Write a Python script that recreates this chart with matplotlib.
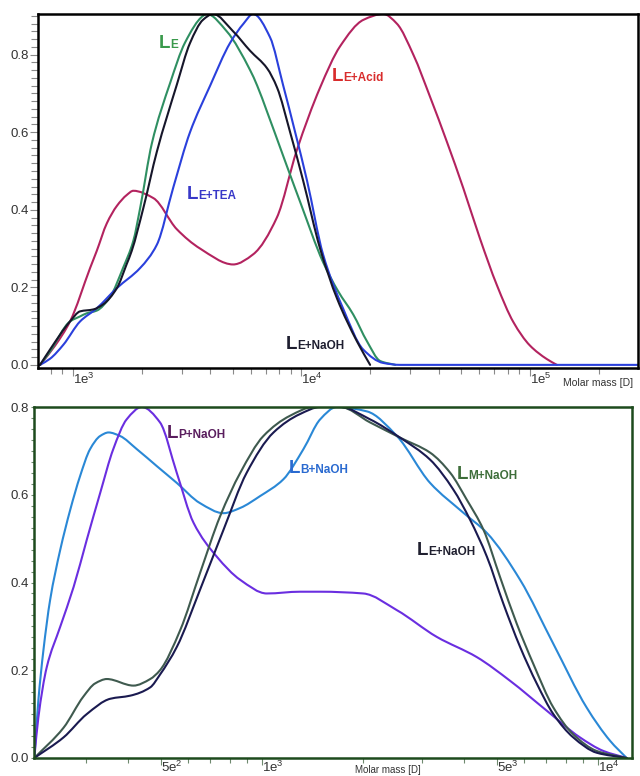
import numpy as np
import matplotlib
matplotlib.use("Agg")
import matplotlib.pyplot as plt
from matplotlib.path import Path
from matplotlib.patches import PathPatch
from matplotlib.ticker import FixedLocator, LogLocator, MultipleLocator, FuncFormatter, NullFormatter

plt.rcParams['font.family'] = ['Liberation Sans', 'DejaVu Sans']
plt.rcParams['mathtext.default'] = 'regular'

# ------------------------------------------------------------
# data (log10 of molar mass, normalised signal)
# ------------------------------------------------------------

# upper panel
lg_le = [2.857, 2.901, 2.988, 3.032, 3.061, 3.105, 3.163, 3.220, 3.265, 3.295, 3.346,
         3.426, 3.491, 3.570, 3.586, 3.674, 3.776, 3.807, 3.850, 3.920, 3.951, 3.995,
         4.095, 4.161, 4.227, 4.288, 4.345, 4.411]
v_le = [0, 0.035, 0.112, 0.125, 0.133, 0.14, 0.175, 0.25, 0.32, 0.405, 0.571,
        0.727, 0.831, 0.90, 0.905, 0.86, 0.76, 0.72, 0.653, 0.54, 0.49, 0.42,
        0.265, 0.19, 0.13, 0.06, 0.01, 0]

lg_naoh = [2.857, 2.901, 2.988, 3.032, 3.090, 3.133, 3.193, 3.236, 3.258, 3.309, 3.368,
           3.455, 3.513, 3.570, 3.614, 3.702, 3.776, 3.850, 3.894, 3.951, 4.008, 4.082,
           4.157, 4.244, 4.301]
v_naoh = [0, 0.04, 0.112, 0.138, 0.143, 0.156, 0.198, 0.26, 0.294, 0.405, 0.55,
          0.722, 0.83, 0.89, 0.905, 0.86, 0.81, 0.765, 0.715, 0.60, 0.475, 0.30,
          0.17, 0.06, 0]

lg_tea = [2.857, 2.901, 2.959, 3.032, 3.105, 3.193, 3.295, 3.368, 3.440, 3.513, 3.601,
          3.688, 3.747, 3.789, 3.863, 3.920, 3.973, 4.025, 4.095, 4.183, 4.270, 4.358,
          4.433, 5.473]
v_tea = [0, 0.016, 0.052, 0.112, 0.146, 0.198, 0.25, 0.31, 0.458, 0.60, 0.72,
         0.83, 0.88, 0.905, 0.845, 0.722, 0.60, 0.475, 0.285, 0.145, 0.04, 0.005,
         0, 0]

lg_acid = [2.857, 2.923, 2.988, 3.076, 3.105, 3.149, 3.193, 3.236, 3.265, 3.353, 3.455,
           3.557, 3.702, 3.789, 3.893, 3.980, 4.082, 4.170, 4.272, 4.359, 4.418, 4.490,
           4.564, 4.637, 4.709, 4.782, 4.856, 4.928, 5.000, 5.074, 5.118]
v_acid = [0, 0.05, 0.112, 0.25, 0.294, 0.365, 0.41, 0.438, 0.449, 0.43, 0.35,
          0.30, 0.259, 0.285, 0.38, 0.553, 0.715, 0.822, 0.89, 0.905, 0.88, 0.80,
          0.69, 0.575, 0.455, 0.325, 0.205, 0.11, 0.05, 0.015, 0]

# lower panel
lg_b = [2.322, 2.334, 2.349, 2.369, 2.399, 2.429, 2.458, 2.488, 2.518, 2.543, 2.577,
        2.627, 2.687, 2.746, 2.815, 2.885, 2.935, 2.994, 3.063, 3.123, 3.173, 3.222,
        3.312, 3.401, 3.500, 3.599, 3.669, 3.768, 3.867, 3.966, 4.036, 4.085]
v_b = [0, 0.131, 0.245, 0.36, 0.474, 0.566, 0.642, 0.704, 0.734, 0.742, 0.734,
       0.704, 0.665, 0.627, 0.581, 0.558, 0.57, 0.597, 0.635, 0.704, 0.772, 0.80,
       0.79, 0.734, 0.627, 0.559, 0.513, 0.406, 0.26, 0.115, 0.039, 0]

lg_p = [2.322, 2.334, 2.359, 2.399, 2.439, 2.478, 2.518, 2.557, 2.597, 2.642, 2.696,
        2.746, 2.796, 2.865, 2.935, 3.014, 3.113, 3.173, 3.301, 3.401, 3.520, 3.639,
        3.738, 3.847, 3.946, 4.016, 4.085]
v_p = [0, 0.092, 0.207, 0.299, 0.39, 0.497, 0.604, 0.704, 0.772, 0.80, 0.765,
       0.65, 0.536, 0.459, 0.406, 0.375, 0.379, 0.379, 0.375, 0.337, 0.276, 0.23,
       0.176, 0.108, 0.047, 0.016, 0]

lg_m = [2.322, 2.409, 2.468, 2.503, 2.538, 2.617, 2.667, 2.696, 2.756, 2.815, 2.875,
        2.935, 3.004, 3.083, 3.153, 3.232, 3.321, 3.411, 3.500, 3.560, 3.609, 3.659,
        3.708, 3.758, 3.807, 3.867, 3.926, 3.996, 4.085]
v_m = [0, 0.069, 0.14, 0.17, 0.18, 0.165, 0.18, 0.20, 0.291, 0.421, 0.551,
       0.65, 0.734, 0.78, 0.80, 0.80, 0.765, 0.73, 0.696, 0.65, 0.589, 0.52,
       0.413, 0.306, 0.215, 0.115, 0.054, 0.016, 0]

lg_e = [2.322, 2.409, 2.478, 2.548, 2.607, 2.667, 2.696, 2.746, 2.815, 2.885, 2.954,
        3.034, 3.113, 3.173, 3.232, 3.321, 3.411, 3.500, 3.569, 3.619, 3.669, 3.718,
        3.768, 3.818, 3.867, 3.926, 3.996, 4.085]
v_e = [0, 0.047, 0.10, 0.135, 0.142, 0.161, 0.19, 0.253, 0.383, 0.52, 0.65,
       0.742, 0.784, 0.80, 0.80, 0.772, 0.73, 0.68, 0.612, 0.543, 0.459, 0.352,
       0.253, 0.169, 0.10, 0.047, 0.012, 0]

top_ticks = [1e3, 1e4, 1e5]
bot_ticks = [5e2, 1e3, 5e3, 1e4]

# ------------------------------------------------------------
# helpers
# ------------------------------------------------------------

def sci_label(m, pos):
    e = int(np.floor(np.log10(m) + 1e-9))
    mant = int(round(m / 10 ** e))
    return f"{mant}e$^{{{e}}}$"


def smooth_line(ax, lg, v, color, lw=1.5):
    # draw the trace as cubic bezier segments (shape preserving tangents in log space)
    x = np.asarray(lg, float)
    y = np.asarray(v, float)
    h = np.diff(x)
    d = np.diff(y) / h
    m = np.zeros_like(x)
    m[0], m[-1] = d[0], d[-1]
    for i in range(1, len(x) - 1):
        if d[i - 1] * d[i] > 0:
            w1 = 2 * h[i] + h[i - 1]
            w2 = h[i] + 2 * h[i - 1]
            m[i] = (w1 + w2) / (w1 / d[i - 1] + w2 / d[i])
    verts = [(x[0], y[0])]
    codes = [Path.MOVETO]
    for i in range(len(h)):
        verts += [(x[i] + h[i] / 3, y[i] + m[i] * h[i] / 3),
                  (x[i + 1] - h[i] / 3, y[i + 1] - m[i + 1] * h[i] / 3),
                  (x[i + 1], y[i + 1])]
        codes += [Path.CURVE4] * 3
    verts = np.array(verts)
    verts[:, 0] = 10 ** verts[:, 0]
    ax.add_patch(PathPatch(Path(verts, codes), fill=False, edgecolor=color,
                           lw=lw, capstyle='round', joinstyle='round'))


def tag(ax, lg, v, sub, color):
    # big "L" followed by a smaller bold suffix on the same baseline
    x = 10 ** lg
    ax.text(x, v, "L", color=color, fontsize=13.5, fontweight='bold', ha='right', va='baseline')
    ax.text(x, v, sub, color=color, fontsize=8.5, fontweight='bold', ha='left', va='baseline')


def style_axis(ax, spine_col, tick_col, xlen, xpad, ylen, ypad):
    for s in ax.spines.values():
        s.set_color(spine_col)
        s.set_linewidth(1.8)
    ax.xaxis.set_major_formatter(FuncFormatter(sci_label))
    ax.xaxis.set_minor_formatter(NullFormatter())
    ax.tick_params(axis='x', which='major', direction='out', length=xlen, pad=xpad,
                   color=tick_col, labelcolor='#333333', labelsize=9.5, width=0.8)
    ax.tick_params(axis='x', which='minor', direction='out', length=xlen * 0.7,
                   color=tick_col, width=0.8)
    ax.tick_params(axis='y', which='major', direction='out', length=ylen, pad=ypad,
                   color=tick_col, labelcolor='#333333', labelsize=9.5, width=0.8)
    ax.tick_params(axis='y', which='minor', direction='out', length=ylen * 0.8,
                   color=tick_col, width=0.8)
    ax.yaxis.set_major_formatter(FuncFormatter(lambda v, p: f"{v:.1f}"))


# ------------------------------------------------------------
# figure
# ------------------------------------------------------------

fig = plt.figure(figsize=(6.4, 7.76), dpi=100)
ax1 = fig.add_axes([0.0594, 0.5258, 0.9375, 0.4562])
ax2 = fig.add_axes([0.0531, 0.0232, 0.9344, 0.4523])
ax1.set_xscale('log')
ax2.set_xscale('log')

# upper panel
smooth_line(ax1, lg_acid, v_acid, '#b3235f')
smooth_line(ax1, lg_le, v_le, '#2f8f62')
smooth_line(ax1, lg_tea, v_tea, '#2a40dc')
smooth_line(ax1, lg_naoh, v_naoh, '#16162a')

ax1.set_xlim(10 ** 2.848, 10 ** 5.473)
ax1.set_ylim(-0.008, 0.905)
ax1.xaxis.set_major_locator(FixedLocator(top_ticks))
ax1.xaxis.set_minor_locator(LogLocator(base=10, subs=np.arange(2, 10), numticks=50))
ax1.yaxis.set_major_locator(MultipleLocator(0.2))
ax1.yaxis.set_minor_locator(MultipleLocator(0.02))
style_axis(ax1, 'black', '#8a8a8a', 6, -3, 6, 0.5)

tag(ax1, 3.426, 0.817, "E", '#3a9a4c')
tag(ax1, 3.549, 0.428, "E+TEA", '#3838c8')
tag(ax1, 4.183, 0.731, "E+Acid", '#d82c2c')
tag(ax1, 3.982, 0.042, "E+NaOH", '#1e1e30')

ax1.text(0.875, -0.042, "Molar mass [D]", transform=ax1.transAxes, fontsize=7.5,
         color='#333333', ha='left', va='center')

# lower panel
smooth_line(ax2, lg_b, v_b, '#2a88d6')
smooth_line(ax2, lg_p, v_p, '#6a2ee0')
smooth_line(ax2, lg_m, v_m, '#3f5a4f')
smooth_line(ax2, lg_e, v_e, '#1a1a50')

ax2.set_xlim(10 ** 2.321, 10 ** 4.101)
ax2.set_ylim(0, 0.8)
ax2.xaxis.set_major_locator(FixedLocator(bot_ticks))
ax2.xaxis.set_minor_locator(LogLocator(base=10, subs=[2, 3, 4, 6, 7, 8, 9], numticks=50))
ax2.yaxis.set_major_locator(MultipleLocator(0.2))
ax2.yaxis.set_minor_locator(MultipleLocator(0.025))
style_axis(ax2, '#1d4a1d', '#6f8a6f', 5, -3.5, 2.5, 1)

tag(ax2, 2.750, 0.730, "P+NaOH", '#5a1e5e')
tag(ax2, 3.113, 0.650, "B+NaOH", '#2a6ad0')
tag(ax2, 3.613, 0.635, "M+NaOH", '#3e6e3a')
tag(ax2, 3.494, 0.463, "E+NaOH", '#202030')

ax2.text(0.592, -0.034, "Molar mass [D]", transform=ax2.transAxes, fontsize=7,
         color='#333333', ha='center', va='center')

# tick labels start at the tick, as in the original software
fig.canvas.draw()
for ax in (ax1, ax2):
    for lab in ax.get_xticklabels():
        lab.set_horizontalalignment('left')

fig.savefig("out.png", dpi=100)
